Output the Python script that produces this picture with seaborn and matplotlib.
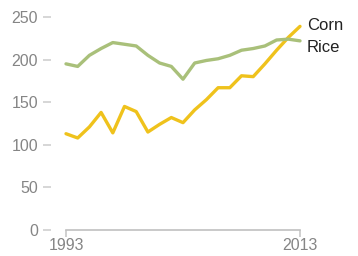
import matplotlib
matplotlib.use("Agg")
import matplotlib.pyplot as plt
import seaborn as sns
import pandas as pd

# data
years = list(range(1993, 2014))
corn = [113, 108, 121, 138, 114, 145, 139, 115, 124, 132, 126,
        141, 153, 167, 167, 181, 180, 195, 211, 226, 239]
rice = [195, 192, 205, 213, 220, 218, 216, 205, 196, 192, 177,
        196, 199, 201, 205, 211, 213, 216, 223, 224, 222]
series_names = ["Corn", "Rice"]
y_ticks = [0, 50, 100, 150, 200, 250]
x_ticks = [1993, 2013]

df = pd.DataFrame({"year": years, "Corn": corn, "Rice": rice})
long_df = df.melt(id_vars="year", var_name="crop", value_name="value")

sns.set_style("white")
plt.rcParams['font.family'] = ['Liberation Sans', 'DejaVu Sans']

fig = plt.figure(figsize=(3.58, 2.56), dpi=100)
ax = fig.add_axes([66/358, (256-230)/256, (300-66)/358, (230-17)/256])

palette = {"Corn": "#efc21c", "Rice": "#a9c07a"}
sns.lineplot(data=long_df, x="year", y="value", hue="crop", palette=palette,
             linewidth=2.4, ax=ax, legend=False)
for line in ax.lines:
    line.set_clip_on(False)

ax.set_xlim(1993, 2013)
ax.set_ylim(0, 250)
ax.set_xticks(x_ticks)
ax.set_yticks(y_ticks)
ax.set_xlabel("")
ax.set_ylabel("")

for s in ["top", "right"]:
    ax.spines[s].set_visible(False)
ax.spines["left"].set_position(("outward", 11))
ax.spines["left"].set_color("none")
ax.spines["bottom"].set_color("#c0c0c0")
ax.spines["bottom"].set_linewidth(1.2)

ax.tick_params(axis="y", length=6, width=1.2, color="#d0d0d0",
               labelcolor="#858585", labelsize=11.5, pad=3, left=True)
ax.tick_params(axis="x", length=5, width=1.2, color="#c8c8c8", direction="out",
               labelcolor="#858585", labelsize=11.5, pad=1, bottom=True)

# end labels
label_x = 1993 + (307-66)/11.7
ax.text(label_x, 240, "Corn", fontsize=12, color="#222222",
        va="center", ha="left", clip_on=False)
ax.text(label_x, 214, "Rice", fontsize=12, color="#222222",
        va="center", ha="left", clip_on=False)

fig.savefig("out.png", dpi=100)
